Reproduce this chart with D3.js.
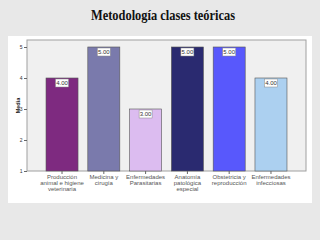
<!DOCTYPE html>
<html><head><meta charset="utf-8">
<script src="https://cdn.jsdelivr.net/npm/d3@7"></script>
<style>html,body{margin:0;padding:0;background:#e8e8e8;}svg{display:block;}</style>
</head><body>
<svg id="c" width="320" height="240"></svg>
<script>
const categories = [
  ["Producción","animal e higiene","veterinaria"],
  ["Medicina y","cirugía"],
  ["Enfermedades","Parasitarias"],
  ["Anatomía","patológica","especial"],
  ["Obstetricia y","reproducción"],
  ["Enfermedades","infecciosas"]
];
const values = [4, 5, 3, 5, 5, 4];
const colors = ["#7e2a80", "#7a7aac", "#dcbcf0", "#2a2a70", "#5858fc", "#acd0f0"];
const yTicks = [1, 2, 3, 4, 5];
const title = "Metodología clases teóricas";
const yLabel = "Media";

const svg = d3.select("#c");
svg.append("rect").attr("x",0).attr("y",0).attr("width",320).attr("height",240).attr("fill","#e8e8e8");
svg.append("rect").attr("x",8).attr("y",36).attr("width",304).attr("height",167).attr("fill","#ffffff");
svg.append("text").attr("x",163).attr("y",20).attr("text-anchor","middle")
  .attr("font-family","Liberation Serif").attr("font-weight","bold").attr("font-size",14)
  .attr("textLength",144).attr("lengthAdjust","spacingAndGlyphs")
  .attr("fill","#111").text(title);

const L=27, R=306, T=40, B=171;
const x = d3.scaleBand().domain(d3.range(values.length)).range([L,R]).paddingInner(0.234).paddingOuter(0.455);
const y = d3.scaleLinear().domain([1, 1+(B-T)/31]).range([B,T]);

svg.append("rect").attr("x",L).attr("y",T).attr("width",R-L).attr("height",B-T)
  .attr("fill","#f0f0f0").attr("stroke","#a0a0a0").attr("stroke-width",1);

svg.selectAll(".bar").data(values).join("rect")
  .attr("x",(d,i)=>x(i)).attr("y",d=>y(d)).attr("width",x.bandwidth()).attr("height",d=>B-y(d))
  .attr("fill",(d,i)=>colors[i]).attr("stroke","#555").attr("stroke-width",0.6);

const lab = svg.selectAll(".lab").data(values).join("g")
  .attr("transform",(d,i)=>`translate(${x(i)+x.bandwidth()/2},${y(d)+1})`);
lab.append("rect").attr("x",-6.5).attr("y",0).attr("width",13).attr("height",8)
  .attr("fill","#fff").attr("stroke","#888").attr("stroke-width",0.5);
lab.append("text").attr("x",0).attr("y",6.3).attr("text-anchor","middle")
  .attr("font-family","Liberation Sans").attr("font-size",6).attr("fill","#333")
  .text(d=>d3.format(".2f")(d));

const ya = svg.append("g").attr("transform",`translate(${L},0)`)
  .call(d3.axisLeft(y).tickValues(yTicks).tickFormat(d3.format("d")).tickSize(3).tickPadding(1.5));
ya.select(".domain").remove();
ya.selectAll("line").attr("stroke","#666");
ya.selectAll("text").attr("font-family","Liberation Sans").attr("font-size",5).attr("fill","#333");

const xa = svg.append("g").attr("transform",`translate(0,${B})`)
  .call(d3.axisBottom(x).tickSize(3).tickFormat(""));
xa.select(".domain").remove();
xa.selectAll("line").attr("stroke","#666");

svg.selectAll(".cat").data(categories).join("text")
  .attr("x",(d,i)=>x(i)+x.bandwidth()/2).attr("y",179)
  .attr("text-anchor","middle").attr("font-family","Liberation Sans").attr("font-size",6).attr("fill","#555")
  .each(function(d){
    d3.select(this).selectAll("tspan").data(d).join("tspan")
      .attr("x",d3.select(this).attr("x")).attr("dy",(t,j)=>j?6:0).text(t=>t);
  });

svg.append("text").attr("transform",`translate(20,${(T+B)/2}) rotate(-90)`).attr("text-anchor","middle")
  .attr("font-family","Liberation Sans").attr("font-weight","bold").attr("font-size",5.5).attr("fill","#222").text(yLabel);
</script>
</body></html>
